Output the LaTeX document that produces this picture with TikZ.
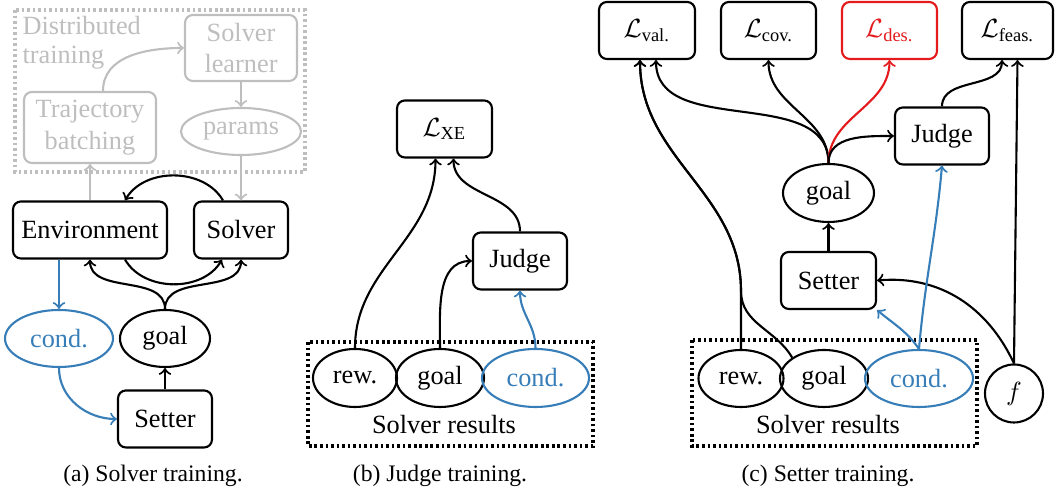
\documentclass[tikz,border=0pt]{standalone}
\usepackage{amsmath}
\usepackage{fontspec}
\setmainfont{Liberation Serif}
\usetikzlibrary{shapes.geometric}
\newdimen\PX
\PX=0.3802pt
\definecolor{lg}{RGB}{190,190,190}
\definecolor{cblue}{RGB}{55,126,184}
\definecolor{cred}{RGB}{228,26,28}
\tikzset{
  every node/.style={font=\fontsize{10}{12}\selectfont},
  box/.style={draw, rounded corners=3pt, line width=0.8pt, minimum height=57\PX, inner sep=1pt, align=center},
  ell/.style={draw, ellipse, line width=0.8pt, minimum height=57\PX, inner sep=0pt},
  conn/.style={->, line width=0.8pt},
  gbox/.style={box, draw=lg, text=lg},
  gconn/.style={conn, draw=lg},
  bconn/.style={conn, draw=cblue},
  dotbox/.style={line width=1.2pt, dash pattern=on 1pt off 1.1pt},
  captext/.style={font=\fontsize{9}{11}\selectfont},
}
\begin{document}
\begin{tikzpicture}[x=0.3802pt, y=0.3802pt]
\useasboundingbox (0,0) rectangle (1055,-489);

% ---------- (a) ----------
\draw[dotbox, draw=lg] (15,-10) rectangle (305,-172);
\node[anchor=north west, text=lg, align=left, inner sep=0pt, font=\fontsize{10}{10.8}\selectfont] (dist) at (22,-16) {Distributed\\training};
\node[gbox, minimum width=132\PX, minimum height=71\PX] (tb) at (90,-127.5) {Trajectory\\batching};
\node[gbox, minimum width=112\PX, minimum height=66\PX] (sl) at (241,-48) {Solver\\learner};
\node[ell, draw=lg, text=lg, minimum width=120\PX, minimum height=47\PX] (par) at (241,-131.5) {params};

\node[box, minimum width=154\PX] (env) at (90,-230) {Environment};
\node[box, minimum width=94\PX] (sol) at (241,-230) {Solver};
\node[ell, draw=cblue, text=cblue, minimum width=108\PX] (cond1) at (59,-338.5) {cond.};
\node[ell, minimum width=90\PX] (goal1) at (165,-338.5) {goal};
\node[box, minimum width=94\PX] (set1) at (165,-419) {Setter};

\draw[gconn] ([xshift=13\PX]tb.north) to[out=90,in=180] (sl.west);
\draw[gconn] (sl.south) -- (par.north);
\draw[gconn] (par.south) -- (sol.north);
\draw[gconn] (env.north) -- (tb.south);
\draw[conn] ([xshift=-18\PX]sol.north) to[out=120,in=60] ([xshift=35\PX]env.north);
\draw[conn] ([xshift=35\PX]env.south) to[out=-60,in=-120] ([xshift=-19\PX]sol.south);
\draw[conn] (goal1.north) to[out=90,in=-90] (env.south);
\draw[conn] (goal1.north) to[out=90,in=-90] (sol.south);
\draw[bconn] ([xshift=-31\PX]env.south) -- (cond1.north);
\draw[bconn] (cond1.south) to[out=-90,in=180] (set1.west);
\draw[conn] (set1.north) -- (goal1.south);
\node[captext] (capa) at (153,-476) {(a) Solver training.};

% ---------- (b) ----------
\node[box, minimum width=95\PX] (lxe) at (444.5,-129) {$\mathcal{L}_{\text{XE}}$};
\node[box, minimum width=94\PX] (jd1) at (520,-261) {Judge};
\draw[dotbox] (308,-342) rectangle (593,-446);
\node[ell, minimum width=84\PX, minimum height=58\PX] (rew2) at (355,-378) {rew.};
\node[ell, minimum width=88\PX, minimum height=58\PX] (goal2) at (440,-378) {goal};
\node[ell, draw=cblue, text=cblue, minimum width=107\PX, minimum height=58\PX] (cond2) at (535.5,-378) {cond.};
\node (sr2) at (444,-425) {Solver results};
\draw[conn] (rew2.north) to[out=90,in=-90] ([xshift=-9\PX]lxe.south);
\draw[conn] (jd1.north) to[out=90,in=-90] ([xshift=9\PX]lxe.south);
\draw[conn] (goal2.north) to[out=90,in=180] (jd1.west);
\draw[bconn] (cond2.north) to[out=90,in=-90] (jd1.south);
\node[captext] (capb) at (440,-476) {(b) Judge training.};

% ---------- (c) ----------
\node[box, minimum width=96\PX] (lval) at (647,-30.5) {$\mathcal{L}_{\text{val.}}$};
\node[box, minimum width=95\PX] (lcov) at (768.5,-30.5) {$\mathcal{L}_{\text{cov.}}$};
\node[box, minimum width=95\PX, draw=cred, text=cred] (ldes) at (889.5,-30.5) {$\mathcal{L}_{\text{des.}}$};
\node[box, minimum width=91\PX] (lfeas) at (1007.5,-30.5) {$\mathcal{L}_{\text{feas.}}$};
\node[box, minimum width=94\PX] (jd2) at (942,-136) {Judge};
\node[ell, minimum width=91\PX, minimum height=58\PX] (goal3) at (828.5,-193) {goal};
\node[box, minimum width=95\PX] (set3) at (828.5,-280.5) {Setter};
\draw[dotbox] (692,-340) rectangle (977,-446);
\node[ell, minimum width=85\PX] (rew3) at (741,-378.5) {rew.};
\node[ell, minimum width=88\PX] (goal4) at (824,-378.5) {goal};
\node[ell, draw=cblue, text=cblue, minimum width=108\PX] (cond4) at (919,-378.5) {cond.};
\node (sr3) at (828,-425) {Solver results};
\node[draw, circle, line width=0.8pt, minimum size=58\PX, inner sep=0pt] (f) at (1014,-393.5) {$f$};
\coordinate (m) at ([yshift=58\PX]rew3.north);

\draw[conn] (set3.north) -- (goal3.south);
\draw[conn] (goal3.north) to[out=90,in=-90] ([xshift=9\PX]lval.south);
\draw[conn] (goal3.north) to[out=90,in=-90] (lcov.south);
\draw[conn, draw=cred] (goal3.north) to[out=90,in=-90] (ldes.south);
\draw[conn] (goal3.north) to[out=90,in=180] (jd2.west);
\draw[conn] (jd2.north) to[out=90,in=-90] ([xshift=-5.5\PX]lfeas.south);
\draw[conn] (f.north) -- ([xshift=10\PX]lfeas.south);
\draw[conn] (f.north) to[out=115,in=5] (set3.east);
\draw[bconn] (cond4.north) to[out=125,in=-40] (set3.south east);
\draw[bconn] (cond4.north) to[out=85,in=-95] (jd2.south);
\draw[conn] (rew3.north) -- (m) to[out=90,in=-90] ([xshift=-7\PX]lval.south);
\draw[conn] (goal4.north west) to[out=120,in=-90] (m) to[out=90,in=-90] ([xshift=-7\PX]lval.south);
\node[captext] (capc) at (828,-476) {(c) Setter training.};
\end{tikzpicture}
\end{document}
